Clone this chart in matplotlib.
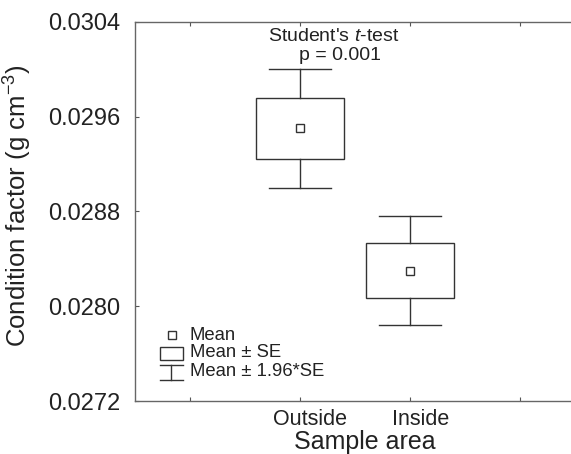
import matplotlib
matplotlib.use("Agg")
import matplotlib.pyplot as plt
from matplotlib.patches import Rectangle
from matplotlib.transforms import ScaledTranslation

plt.rcParams['font.family'] = ['Liberation Sans', 'DejaVu Sans']
plt.rcParams['mathtext.fontset'] = 'custom'
plt.rcParams['mathtext.rm'] = 'Liberation Sans'
plt.rcParams['mathtext.it'] = 'Liberation Sans:italic'

categories = ["Outside", "Inside"]
positions = [2, 3]
means = [0.02950, 0.02830]
se = [0.000255, 0.000235]
yticks = [0.0272, 0.0280, 0.0288, 0.0296, 0.0304]
ytick_labels = ["0.0272", "0.0280", "0.0288", "0.0296", "0.0304"]
xticks = [1, 2, 3, 4]
xtick_labels = ["", "Outside", "Inside", ""]

LC = "#333333"
TC = "#222222"
fig = plt.figure(figsize=(5.71, 4.54), dpi=100)
ax = fig.add_axes([135/571, 53/454, 436/571, 379.3/454])

box_w = 0.8
cap_w = 0.56
for x, m, s in zip(positions, means, se):
    lo, hi = m - s, m + s
    wlo, whi = m - 1.96*s, m + 1.96*s
    ax.add_patch(Rectangle((x - box_w/2, lo), box_w, hi - lo, fill=False,
                           edgecolor=LC, linewidth=1.0, zorder=3))
    ax.plot([x, x], [hi, whi], color=LC, lw=1.0)
    ax.plot([x, x], [wlo, lo], color=LC, lw=1.0)
    ax.plot([x - cap_w/2, x + cap_w/2], [whi, whi], color=LC, lw=1.0)
    ax.plot([x - cap_w/2, x + cap_w/2], [wlo, wlo], color=LC, lw=1.0)
    ax.plot([x], [m], marker='s', ms=5.5, mfc='white', mec=LC, mew=1.0, zorder=4)

ax.set_xlim(0.5, 4.46)
ax.set_ylim(0.0272, 0.0304)
ax.set_yticks(yticks)
ax.set_yticklabels(ytick_labels)
ax.set_xticks(xticks)
ax.set_xticklabels(xtick_labels)
ax.tick_params(axis='both', direction='in', length=3, width=0.8, colors="#555555",
               labelcolor=TC, top=True)
ax.tick_params(axis='y', pad=10.5, labelsize=17)
ax.tick_params(axis='x', pad=6, labelsize=15.5)
offset = ScaledTranslation(10/100, 0, fig.dpi_scale_trans)
for lab in ax.get_xticklabels():
    lab.set_transform(lab.get_transform() + offset)
for sp in ['left', 'top', 'bottom']:
    ax.spines[sp].set_color("#666666")
    ax.spines[sp].set_linewidth(1.0)
ax.spines['right'].set_visible(False)

ax.set_xlabel("Sample area", fontsize=18, color=TC)
ax.xaxis.set_label_coords(0.526, -0.0765)
ax.set_ylabel("Condition factor (g cm$^{-3}$)", fontsize=18.5, color=TC)
ax.yaxis.set_label_coords(-0.232, 0.514)

ax.text(2.3, 0.030275, "Student's $\\it{t}$-test", ha='center', va='center',
        fontsize=14, color=TC)
ax.text(2.36, 0.030118, "p = 0.001", ha='center', va='center',
        fontsize=14, color=TC)

# legend (manual)
T = ax.transAxes
ax.plot([0.0849], [0.174], marker='s', ms=5.5, mfc='white', mec=LC, mew=1.0,
        transform=T, clip_on=False)
ax.add_patch(Rectangle((0.0573, 0.1081), 0.0527, 0.0343, fill=False, edgecolor=LC,
                       linewidth=1.0, transform=T))
ax.plot([0.0573, 0.110], [0.0949, 0.0949], color=LC, lw=1.0, transform=T)
ax.plot([0.0573, 0.110], [0.0554, 0.0554], color=LC, lw=1.0, transform=T)
ax.plot([0.0837, 0.0837], [0.0949, 0.0554], color=LC, lw=1.0, transform=T)
for ty, txt in zip([0.174, 0.1266, 0.0772], ["Mean", "Mean ± SE", "Mean ± 1.96*SE"]):
    ax.text(0.126, ty, txt, transform=T, ha='left', va='center', fontsize=13.3,
            color=TC)

fig.savefig("out.png", dpi=100)
